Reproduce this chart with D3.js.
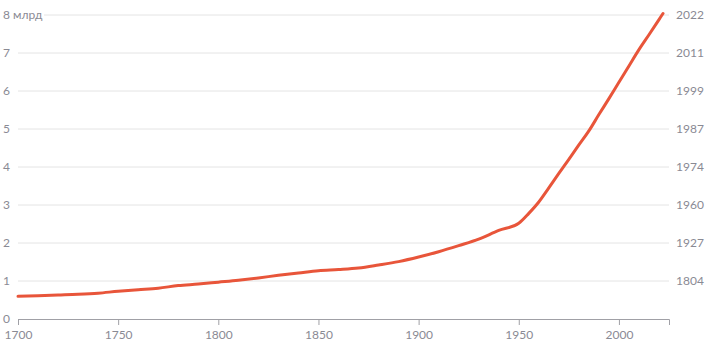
<!DOCTYPE html>
<html>
<head>
<meta charset="utf-8">
<script src="https://cdn.jsdelivr.net/npm/d3@7"></script>
<style>
  body { margin: 0; background: #fff; }
  #chart text { font-family: "Lato", "DejaVu Sans", sans-serif; fill: #8a8a94; font-size: 12px; }
</style>
</head>
<body>
<div id="chart"></div>
<script>
// world population, billions
var years = [1700, 1710, 1720, 1730, 1740, 1750, 1760, 1770, 1780, 1790,
             1800, 1810, 1820, 1830, 1840, 1850, 1860, 1870, 1880, 1890,
             1900, 1910, 1920, 1930, 1940, 1950, 1955, 1960, 1965, 1970,
             1975, 1980, 1985, 1990, 1995, 2000, 2005, 2010, 2015, 2020, 2022];
var population = [0.60, 0.61, 0.63, 0.65, 0.68, 0.73, 0.77, 0.81, 0.88, 0.92,
                  0.97, 1.02, 1.08, 1.15, 1.21, 1.27, 1.30, 1.34, 1.42, 1.51,
                  1.63, 1.77, 1.93, 2.10, 2.33, 2.52, 2.78, 3.08, 3.45, 3.83,
                  4.20, 4.58, 4.95, 5.38, 5.80, 6.23, 6.66, 7.09, 7.48, 7.88, 8.04];

var yTicks = [0, 1, 2, 3, 4, 5, 6, 7, 8];
var xTicks = [1700, 1750, 1800, 1850, 1900, 1950, 2000];
// year each billion was reached
var billionYears = ["", "1804", "1927", "1960", "1974", "1987", "1999", "2011", "2022"];

var margin = {top: 15, right: 40, bottom: 35, left: 18},
    width = 709 - margin.left - margin.right,
    height = 354 - margin.top - margin.bottom;

var x = d3.scaleLinear().domain([1700, 2025]).range([0, width]);
var y = d3.scaleLinear().domain([0, 8]).range([height, 0]);

var svg = d3.select("#chart").append("svg")
    .attr("width", 709)
    .attr("height", 354)
  .append("g")
    .attr("transform", "translate(" + margin.left + "," + margin.top + ")");

// gridlines
svg.selectAll(".grid")
  .data(yTicks.filter(function(d) { return d > 0; }))
  .enter().append("line")
    .attr("x1", function(d) { return d == 8 ? 26 : 0; })
    .attr("x2", width)
    .attr("y1", function(d) { return y(d); })
    .attr("y2", function(d) { return y(d); })
    .attr("stroke", "#e4e4e4")
    .attr("stroke-width", 1);

// left labels
svg.selectAll(".ylab")
  .data(yTicks)
  .enter().append("text")
    .attr("x", -15)
    .attr("y", function(d) { return y(d); })
    .attr("dy", "0.35em")
    .text(function(d) { return d == 8 ? "8 млрд" : d; });

// right labels
svg.selectAll(".rlab")
  .data(yTicks.filter(function(d) { return d > 0; }))
  .enter().append("text")
    .attr("x", width + 7)
    .attr("y", function(d) { return y(d); })
    .attr("dy", "0.35em")
    .text(function(d) { return billionYears[d]; });

// x axis
var xAxis = svg.append("g")
    .attr("transform", "translate(0," + height + ")")
    .call(d3.axisBottom(x).tickValues(xTicks).tickFormat(d3.format("d")).tickSize(6).tickPadding(5));
xAxis.select(".domain").attr("stroke", "#a0a0a6");
xAxis.selectAll(".tick line").attr("stroke", "#a0a0a6");
xAxis.selectAll("text").attr("font-family", null).attr("font-size", null);

// population line
var line = d3.line()
    .x(function(d, i) { return x(years[i]); })
    .y(function(d) { return y(d); })
    .curve(d3.curveMonotoneX);

svg.append("path")
    .datum(population)
    .attr("fill", "none")
    .attr("stroke", "#e8553a")
    .attr("stroke-width", 3)
    .attr("stroke-linejoin", "round")
    .attr("stroke-linecap", "round")
    .attr("d", line);
</script>
</body>
</html>
